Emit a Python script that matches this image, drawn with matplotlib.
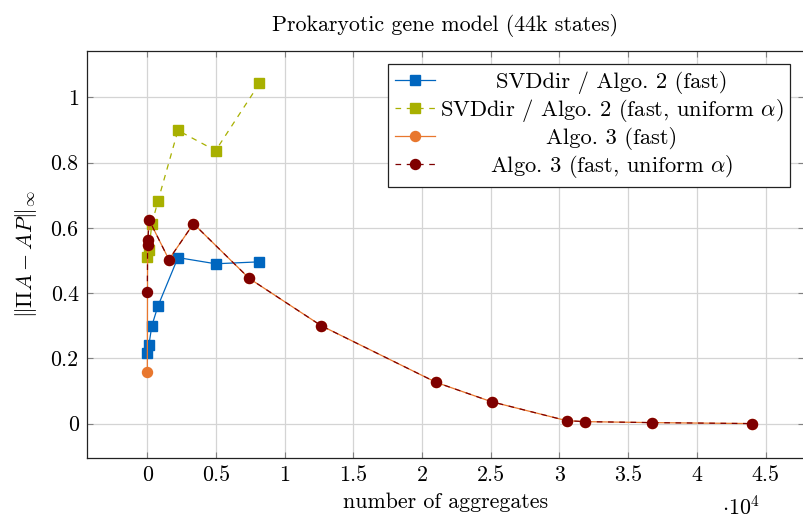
import matplotlib
matplotlib.use("Agg")
import matplotlib.pyplot as plt
from matplotlib.ticker import FixedLocator, FuncFormatter

FS = 15.8
LFS = 16.2
plt.rcParams.update({
    "font.family": "serif",
    "font.serif": ["cmr10"],
    "mathtext.fontset": "cm",
    "axes.formatter.use_mathtext": True,
    "font.size": FS,
})

# ---- data (x = number of aggregates) ----
svd_x = [20, 120, 340, 780, 2240, 4980, 8170]
svd_fast = [0.215, 0.240, 0.300, 0.360, 0.509, 0.490, 0.496]
svd_uniform = [0.510, 0.532, 0.612, 0.682, 0.899, 0.837, 1.043]

algo3_x = [10, 30, 50, 146, 1580, 3370, 7430, 12670, 21050, 25060, 30520, 31830, 36710, 43990]
algo3_fast = [0.157, 0.549, 0.562, 0.624, 0.503, 0.613, 0.445, 0.300, 0.126, 0.067, 0.009, 0.006, 0.003, 0.000]
algo3_uniform = [0.402, 0.549, 0.562, 0.624, 0.503, 0.613, 0.445, 0.300, 0.126, 0.067, 0.009, 0.006, 0.003, 0.000]

labels = ["SVDdir / Algo. 2 (fast)",
          r"SVDdir / Algo. 2 (fast, uniform $\alpha$)",
          "Algo. 3 (fast)",
          r"Algo. 3 (fast, uniform $\alpha$)"]
xticks = [0, 5000, 10000, 15000, 20000, 25000, 30000, 35000, 40000, 45000]
yticks = [0, 0.2, 0.4, 0.6, 0.8, 1.0]

c_blue = "#0066bf"
c_olive = "#a8b000"
c_orange = "#e8772e"
c_dred = "#7f0000"

W, H = 804, 520
fig = plt.figure(figsize=(W / 100, H / 100), dpi=100)
ax = fig.add_axes([87 / W, 1 - 457.5 / H, (804 - 87) / W, (457.5 - 50.5) / H])

ms = 7.2
ax.plot(svd_x, svd_fast, color=c_blue, lw=0.9, marker="s", ms=ms, label=labels[0], zorder=3)
ax.plot(svd_x, svd_uniform, color=c_olive, lw=0.9, dashes=(4.5, 4.5), marker="s", ms=ms, label=labels[1], zorder=3)
ax.plot(algo3_x, algo3_fast, color=c_orange, lw=0.9, marker="o", ms=ms, label=labels[2], zorder=3)
ax.plot(algo3_x, algo3_uniform, color=c_dred, lw=0.9, dashes=(4.5, 4.5), marker="o", ms=ms, label=labels[3], zorder=3)

ax.set_xlim(-4380, 47800)
ax.set_ylim(-0.104, 1.144)
ax.xaxis.set_major_locator(FixedLocator(xticks))
ax.yaxis.set_major_locator(FixedLocator(yticks))
ax.xaxis.set_major_formatter(FuncFormatter(lambda v, p: f"{v / 1e4:g}"))
ax.yaxis.set_major_formatter(FuncFormatter(lambda v, p: f"{v:g}"))

ax.grid(True, color="#d4d4d4", lw=0.9, zorder=0)
ax.set_axisbelow(True)
ax.tick_params(direction="in", length=4, width=0.8, color="#808080",
               top=True, right=True, labelsize=FS)
ax.tick_params(axis="x", pad=6)
ax.tick_params(axis="y", pad=6)
for s in ax.spines.values():
    s.set_color("#222222")
    s.set_linewidth(0.9)

ax.set_title("Prokaryotic gene model (44k states)", fontsize=FS, pad=14)
ax.set_xlabel("number of aggregates", fontsize=FS, labelpad=5)
ax.set_ylabel(r"$\|\Pi A - AP\|_\infty$", fontsize=FS, labelpad=8)
fig.text(741 / W, 1 - 507 / H, r"$\cdot 10^4$", ha="center", va="center", fontsize=FS)

leg = ax.legend(loc="upper right", fontsize=LFS, frameon=True, fancybox=False,
                edgecolor="#222222", framealpha=1, borderaxespad=0.6,
                handlelength=1.75, handletextpad=0.25, labelspacing=0.14, borderpad=0.3)
leg.get_frame().set_linewidth(0.9)

# center legend texts within their column (as in the original)
fig.canvas.draw()
r = fig.canvas.get_renderer()
texts = leg.get_texts()
widths = [t.get_window_extent(r).width for t in texts]
wmax = max(widths)
for t, w in zip(texts, widths):
    t.set_x((wmax - w) / 2)

fig.savefig("out.png", dpi=100)
